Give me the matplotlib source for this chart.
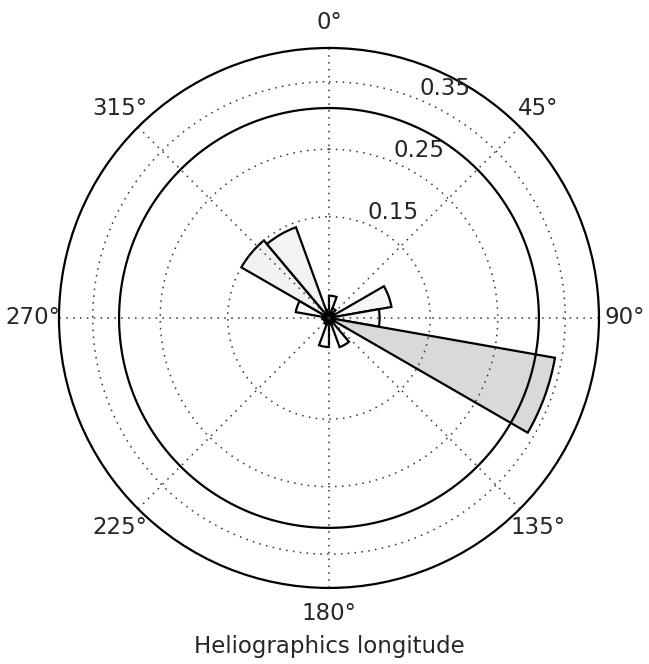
import matplotlib
matplotlib.use('Agg')
import matplotlib.pyplot as plt
import numpy as np

# Histogram of heliographic longitudes, 20 degree bins starting at 0
bin_edges_deg = [0, 20, 40, 60, 80, 100, 120, 140, 160, 180,
                 200, 220, 240, 260, 280, 300, 320, 340, 360]
frequency = [0.033, 0.015, 0.010, 0.094, 0.075, 0.340, 0.010, 0.046, 0.010,
             0.043, 0.010, 0.006, 0.008, 0.010, 0.050, 0.150, 0.143, 0.012]
reference_level = 0.311
r_ticks = [0.15, 0.25, 0.35]
r_max = 0.40
theta_ticks_deg = [0, 45, 90, 135, 180, 225, 270, 315]

plt.rcParams['font.family'] = 'DejaVu Sans'
plt.rcParams['font.size'] = 16.5
plt.rcParams['axes.axisbelow'] = False
text_color = '#262626'

fig = plt.figure(figsize=(6.49, 6.64), dpi=100)
ax = fig.add_axes([0.0909, 0.1145, 0.832, 0.8133], projection='polar')
ax.set_theta_zero_location('N')
ax.set_theta_direction(-1)

edges = np.deg2rad(bin_edges_deg)
widths = np.diff(edges)
heights = np.array(frequency)
colors = plt.cm.Greys(0.25 * heights / heights.max())
ax.bar(edges[:-1], heights, width=widths, align='edge', color=colors,
       edgecolor='black', linewidth=1.6, zorder=1)

# solid reference ring, drawn over the bars
t = np.linspace(0, 2 * np.pi, 400)
ax.plot(t, np.full_like(t, reference_level), color='black', linewidth=1.6, zorder=3)

ax.set_ylim(0, r_max)
ax.set_yticks(r_ticks)
ax.set_yticklabels([f'{v:.2f}' for v in r_ticks], color=text_color)
ax.set_rlabel_position(22.5)
ax.set_xticks(np.deg2rad(theta_ticks_deg))
ax.set_xticklabels([f'{d}°' for d in theta_ticks_deg], color=text_color)
ax.tick_params(axis='x', pad=8)
ax.grid(True, linestyle=(0, (1, 3.5)), color='#333333', linewidth=1.1)
ax.spines['polar'].set_linewidth(1.6)

ax.set_xlabel('Heliographics longitude', color=text_color, labelpad=7)

plt.savefig('out.png', dpi=100)
